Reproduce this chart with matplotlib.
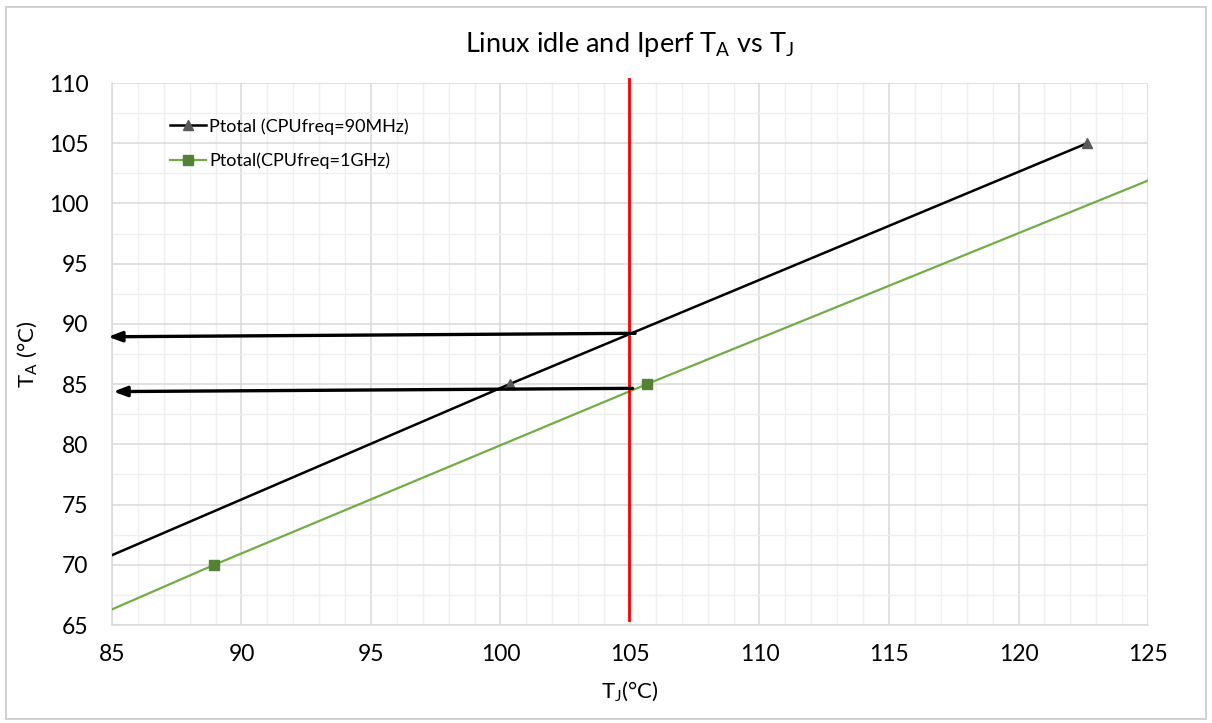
import numpy as np
import matplotlib.pyplot as plt
from matplotlib.ticker import MultipleLocator
from matplotlib.patches import Rectangle

# data
tj_90mhz = [85.0, 100.35, 122.65]
ta_90mhz = [70.8, 85.0, 105.0]
tj_1ghz = [85.0, 88.95, 105.65, 125.0]
ta_1ghz = [66.3, 70.0, 85.0, 101.9]
marks_90mhz = [1, 2]
marks_1ghz = [1, 2]

tj_limit = 104.95
red_y = [65.4, 110.3]

# arrows (start, end) in data units
arrow_starts = [(105.2, 89.22), (105.1, 84.65)]
arrow_ends = [(84.85, 88.93), (85.05, 84.38)]

plt.rcParams['font.family'] = ['Lato', 'DejaVu Sans']

fig = plt.figure(figsize=(12.12, 7.23), dpi=100)
fig.patches.append(Rectangle((0.005, 0.005), 0.99, 0.985, transform=fig.transFigure,
                             fill=False, edgecolor='#c8c8c8', linewidth=1.2))
ax = fig.add_axes([0.0924, 0.1355, 0.8548, 0.7497])

ax.set_xlim(85, 125)
ax.set_ylim(65, 110)
ax.xaxis.set_major_locator(MultipleLocator(5))
ax.xaxis.set_minor_locator(MultipleLocator(1))
ax.yaxis.set_major_locator(MultipleLocator(5))
ax.yaxis.set_minor_locator(MultipleLocator(2.5))
ax.grid(which='major', color='#d9d9d9', linewidth=1.1)
ax.grid(which='minor', color='#efefef', linewidth=1.0)
ax.set_axisbelow(True)
for s in ['top', 'right']:
    ax.spines[s].set_visible(False)
ax.spines['left'].set_color('#d9d9d9')
ax.spines['bottom'].set_color('#d9d9d9')
ax.spines['left'].set_linewidth(1.1)
ax.spines['bottom'].set_linewidth(1.1)
ax.tick_params(which='both', length=0, labelsize=16.5, colors='black')
ax.tick_params(axis='x', pad=14)
ax.tick_params(axis='y', pad=17)

ax.plot(tj_90mhz, ta_90mhz, color='black', linewidth=1.8, marker='^',
        markevery=marks_90mhz, markersize=7, markerfacecolor='#595959',
        markeredgecolor='#595959', label='Ptotal (CPUfreq=90MHz)', zorder=3)
ax.plot(tj_1ghz, ta_1ghz, color='#70ad47', linewidth=1.6, marker='s',
        markevery=marks_1ghz, markersize=7.5, markerfacecolor='#548235',
        markeredgecolor='#548235', label='Ptotal(CPUfreq=1GHz)', zorder=3)

ax.plot([tj_limit, tj_limit], red_y, color='red', linewidth=2, clip_on=False, zorder=4)

for (x0, y0), (x1, y1) in zip(arrow_starts, arrow_ends):
    ax.annotate('', xy=(x1, y1), xytext=(x0, y0),
                arrowprops=dict(arrowstyle='-|>,head_length=0.8,head_width=0.3',
                                color='black', linewidth=2.4, shrinkA=0, shrinkB=0),
                zorder=5, annotation_clip=False)

leg = ax.legend(loc='upper left', bbox_to_anchor=(0.04, 0.965), frameon=False,
                fontsize=13, handlelength=2.0, handletextpad=0.2, labelspacing=1.0)

ax.set_title('Linux idle and Iperf T$_\\mathregular{A}$ vs T$_\\mathregular{J}$',
             fontsize=19.5, pad=22)
ax.set_xlabel('T$_\\mathregular{J}$(°C)', fontsize=16, labelpad=10)
ax.set_ylabel('T$_\\mathregular{A}$ (°C)', fontsize=16, labelpad=6)

fig.savefig('out.png', dpi=100)
